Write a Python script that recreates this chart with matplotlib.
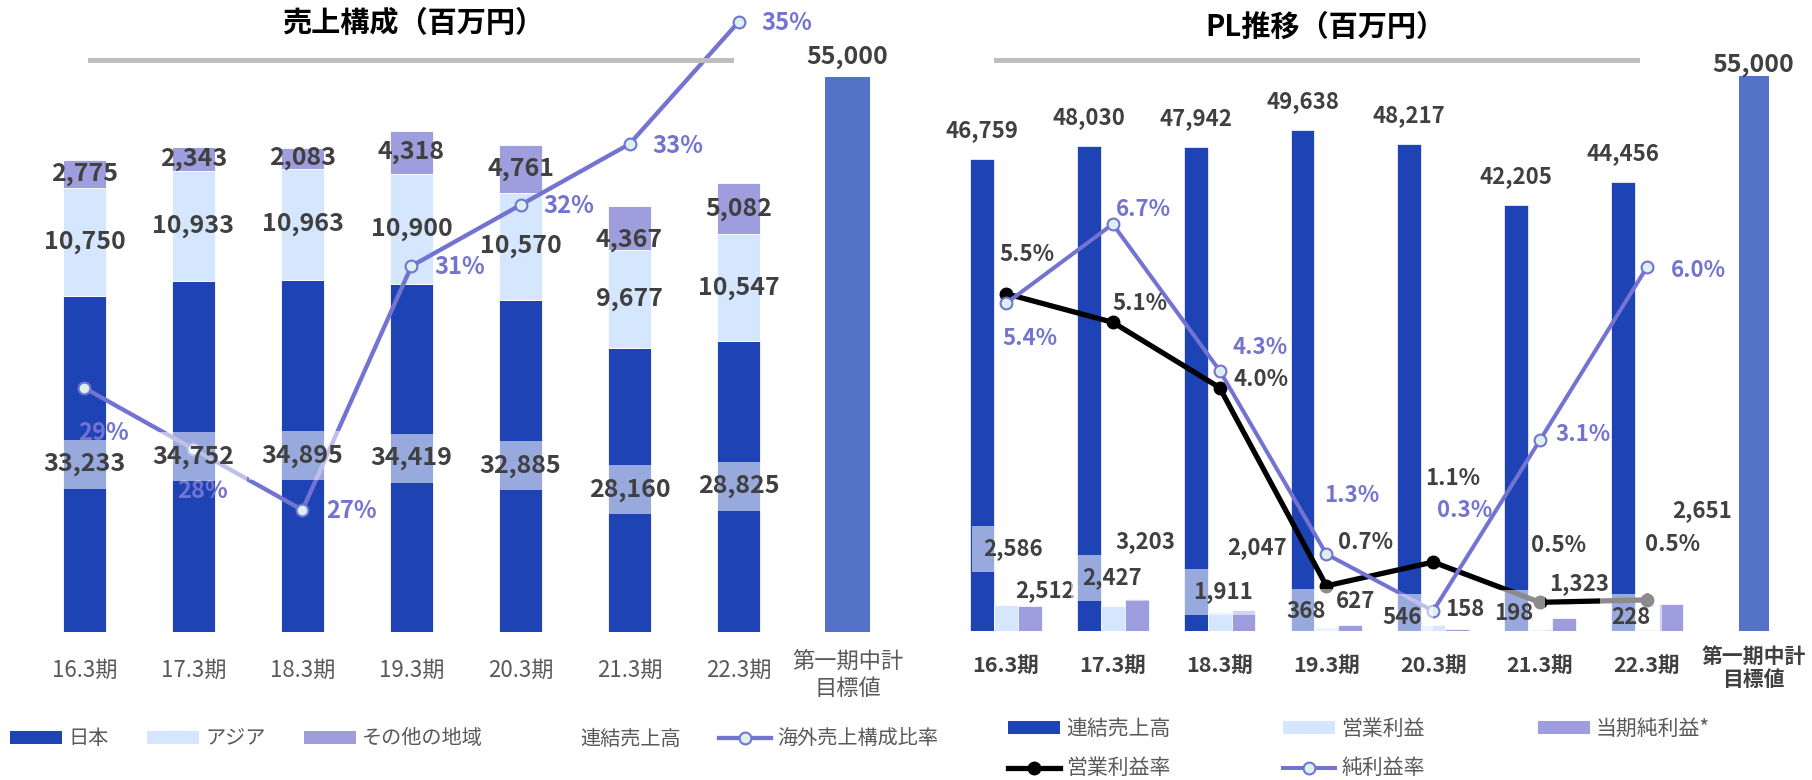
import matplotlib
matplotlib.use("Agg")
import matplotlib.pyplot as plt
from matplotlib.patches import Patch
from matplotlib.lines import Line2D
import numpy as np

plt.rcParams['font.family'] = ['Noto Sans CJK JP', 'DejaVu Sans']

periods = ['16.3期', '17.3期', '18.3期', '19.3期', '20.3期', '21.3期', '22.3期']
target_label = '第一期中計\n目標値'

# 売上構成（百万円）
japan = [33233, 34752, 34895, 34419, 32885, 28160, 28825]
asia = [10750, 10933, 10963, 10900, 10570, 9677, 10547]
other = [2775, 2343, 2083, 4318, 4761, 4367, 5082]
overseas_ratio = [29, 28, 27, 31, 32, 33, 35]
target_sales = 55000

# PL推移（百万円）
sales = [46759, 48030, 47942, 49638, 48217, 42205, 44456]
op_profit = [2586, 2427, 1911, 368, 546, 198, 228]
net_profit = [2512, 3203, 2047, 627, 158, 1323, 2651]
op_margin = [5.53, 5.06, 3.99, 0.74, 1.13, 0.47, 0.51]
net_margin = [5.37, 6.67, 4.27, 1.26, 0.33, 3.13, 5.96]

# colours
BLUE = '#1D43B5'
LIGHT = '#D5E6FF'
PURP = '#9E9EDE'
TARGET = '#5472C8'
LINE = '#7373D1'
MFACE = '#DCF0F0'
TXT = '#404040'
GTXT = '#595959'

# label offsets in pixels (dx, dy), placed by eye
other_dy = [0, 0, 0, 0, 0, -12, 0]
ratio_off = [(19, -45), (9, -42), (49, -1), (48, -1), (48, -1), (48, -2), (48, -1)]
op_off = [(31, 82), (23, 53), (27, 39), (4, 19), (-7, 14), (-2, 18), (8, 14)]
net_off = [(15, 15), (9, 57), (14, 63), (5, 23), (8, 20), (15, 34), (31, 94)]
opm_off = [(21, 39), (27, 19), (41, 8), (39, 43), (19, 84), (19, 57), (26, 55)]
netm_off = [(24, -35), (31, 15), (41, 23), (25, 59), (31, 100), (43, 6), (52, -3)]

W, H = 1812, 780
fig = plt.figure(figsize=(18.12, 7.8), dpi=100, facecolor='white')


def px_axes(l, t, r, b):
    return fig.add_axes([l / W, 1 - b / H, (r - l) / W, (b - t) / H])


def lab(ax, base, xv, yv, s, dx=0, dy=0, color=TXT, size=17, weight='bold', box=False, z=6):
    kw = {}
    if box:
        kw['bbox'] = dict(boxstyle='square,pad=0.5', fc='white', ec='none', alpha=0.55)
    ax.annotate(s, (xv, yv), xycoords=base.transData, xytext=(dx, dy),
                textcoords='offset pixels', ha='center', va='center', color=color,
                fontsize=size, fontweight=weight, zorder=z, annotation_clip=False, **kw)


x = np.arange(len(periods))

# ---------------- left: 売上構成 ----------------
ax1 = px_axes(19, 10, 913, 632)
ax1.set_xlim(-0.6, 7.6)
ax1.set_ylim(0, 622 / 0.0101)
ax1b = ax1.twinx()
ax1b.set_ylim(25, 25 + 622 / 61)

bot2 = np.array(japan) + np.array(asia)
ax1.bar(x, japan, 0.4, color=BLUE, edgecolor='white', lw=0.6)
ax1.bar(x, asia, 0.4, bottom=japan, color=LIGHT, edgecolor='white', lw=0.6)
ax1.bar(x, other, 0.4, bottom=bot2, color=PURP, edgecolor='white', lw=0.6)
ax1.bar(7, target_sales, 0.41, color=TARGET)

ax1b.plot(x, overseas_ratio, color=LINE, lw=3.1, marker='o', ms=8.5,
          mfc=MFACE, mec=LINE, mew=1.5, zorder=3)

for i in range(len(periods)):
    lab(ax1b, ax1, i, japan[i] / 2, f'{japan[i]:,}', box=True, size=18)
    lab(ax1b, ax1, i, japan[i] + asia[i] / 2, f'{asia[i]:,}', size=18)
    lab(ax1b, ax1, i, bot2[i] + other[i] / 2, f'{other[i]:,}', dy=other_dy[i], size=18)
    lab(ax1b, ax1b, i, overseas_ratio[i], f'{overseas_ratio[i]}%',
        dx=ratio_off[i][0], dy=ratio_off[i][1], color=LINE, size=17, z=4)
lab(ax1b, ax1, 7, target_sales, f'{target_sales:,}', dy=19.5, size=18)

for i, p in enumerate(periods):
    ax1.annotate(p, (i, 0), xycoords=('data', 'axes fraction'), xytext=(0, -38),
                 textcoords='offset pixels', ha='center', va='center', fontsize=16, color=GTXT)
ax1.annotate(target_label, (7, 0), xycoords=('data', 'axes fraction'), xytext=(0, -43),
             textcoords='offset pixels', ha='center', va='center', fontsize=16,
             color=GTXT, linespacing=1.2)

# ---------------- right: PL推移 ----------------
ax2 = px_axes(941.9, 10, 1801.7, 631)
ax2.set_xlim(-0.6, 7.45)
ax2.set_ylim(0, 621 / 0.0101)
ax2b = ax2.twinx()
ax2b.set_ylim(0, 621 / 61)

bw = 0.224
ax2.bar(x - bw, sales, bw, color=BLUE, edgecolor='white', lw=0.5)
ax2.bar(x, op_profit, bw, color=LIGHT, edgecolor='white', lw=0.5)
ax2.bar(x + bw, net_profit, bw, color=PURP, edgecolor='white', lw=0.5)
ax2.bar(7, target_sales, 0.28, color=TARGET)

ax2b.plot(x, op_margin, color='black', lw=3.8, marker='o', ms=9, zorder=3)
ax2b.plot(x, net_margin, color=LINE, lw=2.9, marker='o', ms=8.5,
          mfc=MFACE, mec=LINE, mew=1.5, zorder=3.5)

for i in range(len(periods)):
    lab(ax2b, ax2, i - bw, sales[i], f'{sales[i]:,}', dy=28, size=16)
    lab(ax2b, ax2, i - bw, 0, f'{op_profit[i]:,}', dx=op_off[i][0], dy=op_off[i][1],
        box=True, size=16)
    lab(ax2b, ax2, i + bw, net_profit[i], f'{net_profit[i]:,}',
        dx=net_off[i][0], dy=net_off[i][1], size=16)
    lab(ax2b, ax2b, i, op_margin[i], f'{op_margin[i]:.1f}%',
        dx=opm_off[i][0], dy=opm_off[i][1], size=16, z=4)
    lab(ax2b, ax2b, i, net_margin[i], f'{net_margin[i]:.1f}%',
        dx=netm_off[i][0], dy=netm_off[i][1], color=LINE, size=16, z=4)
lab(ax2b, ax2, 7, target_sales, f'{target_sales:,}', dy=10.5, size=18)

for i, p in enumerate(periods):
    ax2.annotate(p, (i, 0), xycoords=('data', 'axes fraction'), xytext=(0, -34),
                 textcoords='offset pixels', ha='center', va='center', fontsize=15.5,
                 fontweight='bold', color=TXT)
ax2.annotate(target_label, (7, 0), xycoords=('data', 'axes fraction'), xytext=(0, -37),
             textcoords='offset pixels', ha='center', va='center', fontsize=15,
             fontweight='bold', color=TXT, linespacing=1.15)

for a in (ax1, ax1b, ax2, ax2b):
    a.set_axis_off()

# titles and grey rules
fig.text(413 / W, 1 - 23 / H, '売上構成（百万円）', ha='center', va='center',
         fontsize=21, fontweight='bold', color='black')
fig.text(1325 / W, 1 - 27 / H, 'PL推移（百万円）', ha='center', va='center',
         fontsize=21, fontweight='bold', color='black')
fig.add_artist(Line2D([90 / W, 731 / W], [1 - 60 / H] * 2, color='#BFBFBF', lw=3.6))
fig.add_artist(Line2D([996 / W, 1637 / W], [1 - 60 / H] * 2, color='#BFBFBF', lw=3.6))

# legends
h1 = [Patch(fc=BLUE), Patch(fc=LIGHT), Patch(fc=PURP), Patch(fc='none', ec='none'),
      Line2D([], [], color=LINE, lw=3.1, marker='o', ms=8.5, mfc=MFACE, mec=LINE, mew=1.5)]
l1 = ['日本', 'アジア', 'その他の地域', '連結売上高', '海外売上構成比率']
fig.legend(h1, l1, loc='center left', bbox_to_anchor=(10 / W, 1 - 739 / H), ncol=5,
           frameon=False, fontsize=14.5, handlelength=2.6, handleheight=0.6,
           handletextpad=0.3, columnspacing=1.9, borderpad=0, borderaxespad=0,
           labelcolor=GTXT)

h2 = [Patch(fc=BLUE), Line2D([], [], color='black', lw=3.8, marker='o', ms=9),
      Patch(fc=LIGHT),
      Line2D([], [], color=LINE, lw=2.9, marker='o', ms=8.5, mfc=MFACE, mec=LINE, mew=1.5),
      Patch(fc=PURP)]
l2 = ['連結売上高', '営業利益率', '営業利益', '純利益率', '当期純利益*']
fig.legend(h2, l2, loc='center left', bbox_to_anchor=(1008 / W, 1 - 748.5 / H), ncol=3,
           frameon=False, fontsize=15, handlelength=2.5, handleheight=0.55,
           handletextpad=0.3, columnspacing=5.4, labelspacing=0.85, borderpad=0,
           borderaxespad=0, labelcolor=GTXT)

fig.savefig('out.png', dpi=100, facecolor='white')
